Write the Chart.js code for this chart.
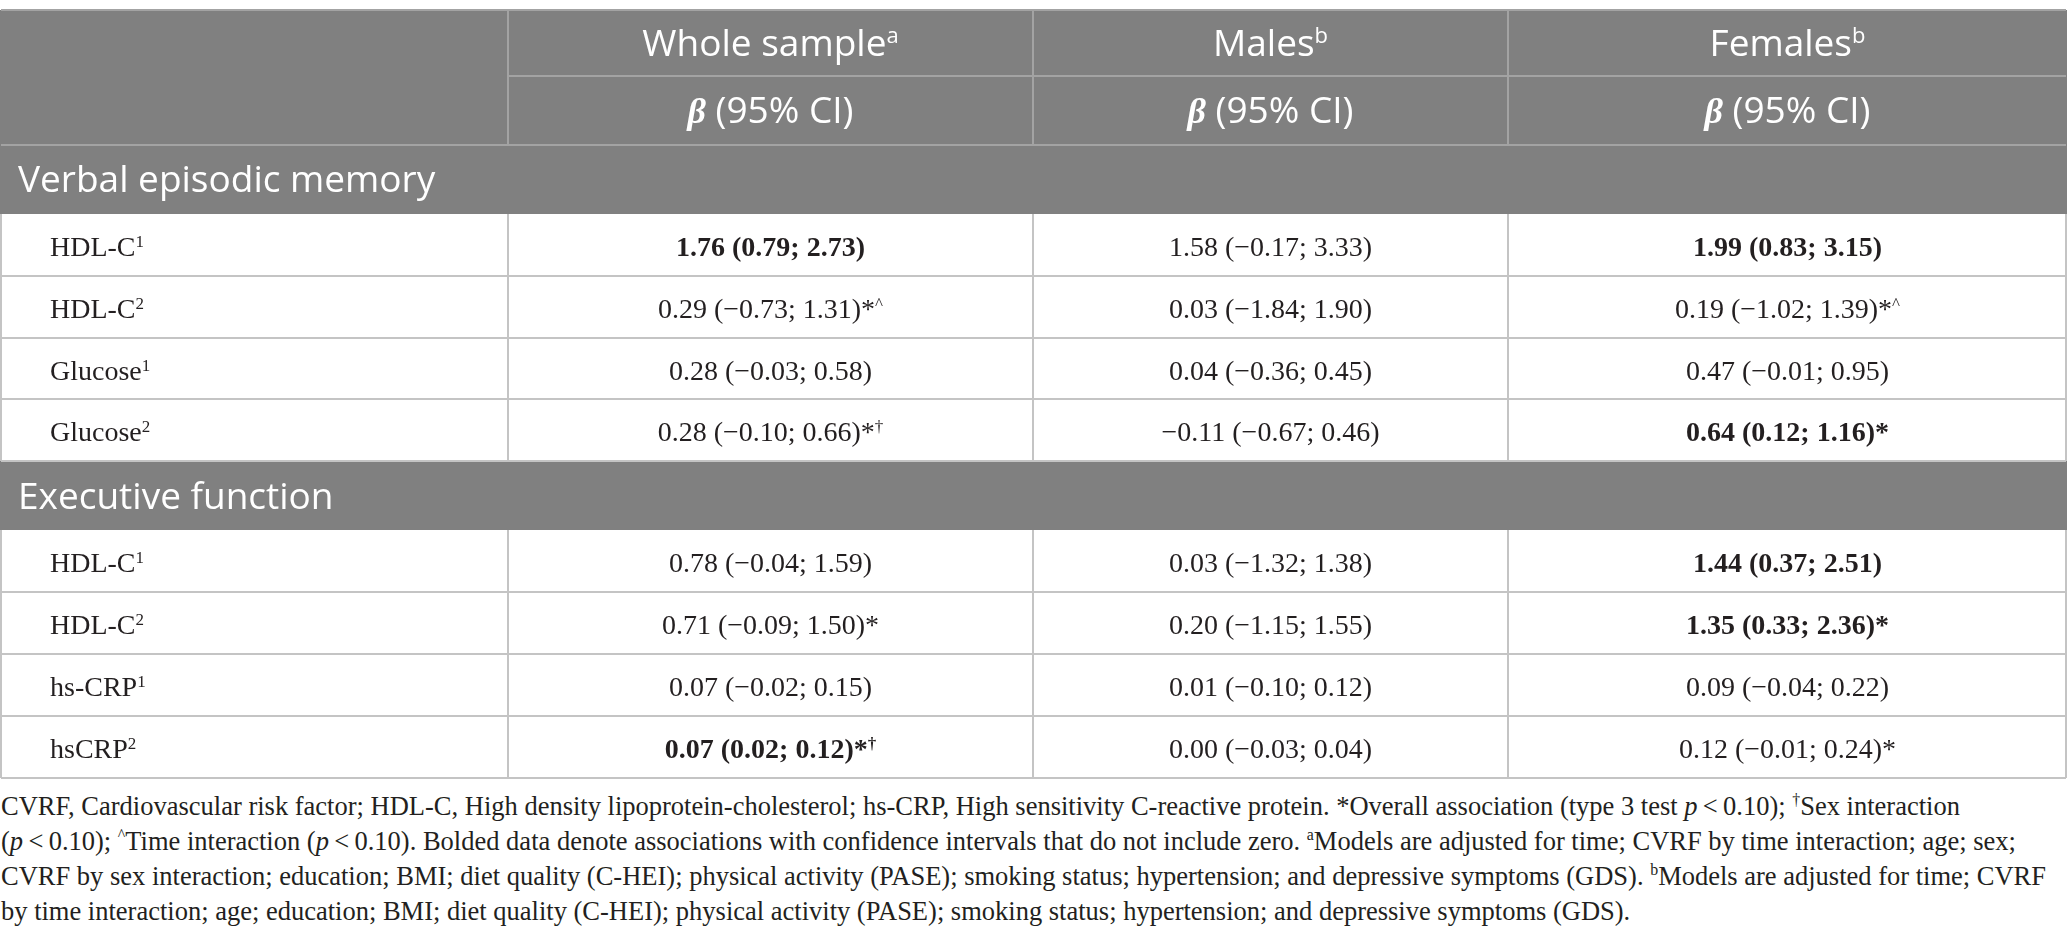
<!DOCTYPE html>
<html>
<head>
<meta charset="utf-8">
<script src="https://cdn.jsdelivr.net/npm/chart.js@4.4.1/dist/chart.umd.min.js"></script>
<style>
    html, body { margin: 0; padding: 0; background: #fff; }
    #wrap { position: relative; width: 2067px; height: 781px; }
    #notes {
        font-family: 'Liberation Serif', serif;
        font-size: 26.5px;
        line-height: 35px;
        color: #231f20;
        margin: 8px 0 0 1px;
        white-space: nowrap;
    }
    #notes sup { font-size: 0.6em; line-height: 0; vertical-align: 0.6em; }
</style>
</head>
<body>
<div id="wrap"><canvas id="tableChart"></canvas></div>
<div id="notes">
CVRF, Cardiovascular risk factor; HDL-C, High density lipoprotein-cholesterol; hs-CRP, High sensitivity C-reactive protein. *Overall association (type 3 test <i>p</i>&thinsp;&lt;&thinsp;0.10); <sup>†</sup>Sex interaction<br>
(<i>p</i>&thinsp;&lt;&thinsp;0.10); <sup>^</sup>Time interaction (<i>p</i>&thinsp;&lt;&thinsp;0.10). Bolded data denote associations with confidence intervals that do not include zero. <sup>a</sup>Models are adjusted for time; CVRF by time interaction; age; sex;<br>
CVRF by sex interaction; education; BMI; diet quality (C-HEI); physical activity (PASE); smoking status; hypertension; and depressive symptoms (GDS). <sup>b</sup>Models are adjusted for time; CVRF<br>
by time interaction; age; education; BMI; diet quality (C-HEI); physical activity (PASE); smoking status; hypertension; and depressive symptoms (GDS).
</div>
<script>
// Column groups and header marks
const groups = ['Whole sample', 'Males', 'Females'];
const groupMarks = ['a', 'b', 'b'];
const statLabel = '(95% CI)';

// Outcome sections and their predictor rows (name + model superscript)
const sections = ['Verbal episodic memory', 'Executive function'];
const verbalRows = ['HDL-C', 'HDL-C', 'Glucose', 'Glucose'];
const verbalModels = ['1', '2', '1', '2'];
const executiveRows = ['HDL-C', 'HDL-C', 'hs-CRP', 'hsCRP'];
const executiveModels = ['1', '2', '1', '2'];

// Estimates, in row order: 4 verbal rows then 4 executive rows
const wholeBeta = [1.76, 0.29, 0.28, 0.28, 0.78, 0.71, 0.07, 0.07];
const wholeLow  = [0.79, -0.73, -0.03, -0.10, -0.04, -0.09, -0.02, 0.02];
const wholeHigh = [2.73, 1.31, 0.58, 0.66, 1.59, 1.50, 0.15, 0.12];
const wholeMarks = ['', '*^', '', '*†', '', '*', '', '*†'];

const maleBeta = [1.58, 0.03, 0.04, -0.11, 0.03, 0.20, 0.01, 0.00];
const maleLow  = [-0.17, -1.84, -0.36, -0.67, -1.32, -1.15, -0.10, -0.03];
const maleHigh = [3.33, 1.90, 0.45, 0.46, 1.38, 1.55, 0.12, 0.04];
const maleMarks = ['', '', '', '', '', '', '', ''];

const femaleBeta = [1.99, 0.19, 0.47, 0.64, 1.44, 1.35, 0.09, 0.12];
const femaleLow  = [0.83, -1.02, -0.01, 0.12, 0.37, 0.33, -0.04, -0.01];
const femaleHigh = [3.15, 1.39, 0.95, 1.16, 2.51, 2.36, 0.22, 0.24];
const femaleMarks = ['', '*^', '', '*', '', '*', '', '*'];

// Layout (pixels on the value axes)
const COL_W = [508, 525, 475, 559];
const ROW_H = { head1: 66, head2: 69, section: 69, data: 62 };
const HEAD_BG = '#808080';
const HEAD_LINE = '#a3a3a3';
const BODY_LINE = '#c4c4c4';
const INK = '#231f20';
const SANS = '"Open Sans", sans-serif';
const SERIF = '"Liberation Serif", serif';

const columns = [
    { beta: wholeBeta, low: wholeLow, high: wholeHigh, marks: wholeMarks },
    { beta: maleBeta, low: maleLow, high: maleHigh, marks: maleMarks },
    { beta: femaleBeta, low: femaleLow, high: femaleHigh, marks: femaleMarks }
];

// Row list: kind + content
const rows = [{ kind: 'head1' }, { kind: 'head2' }];
[[verbalRows, verbalModels], [executiveRows, executiveModels]].forEach(function(pair, s) {
    rows.push({ kind: 'section', text: sections[s] });
    pair[0].forEach(function(name, i) {
        rows.push({ kind: 'data', name: name, model: pair[1][i], idx: s * 4 + i });
    });
});

let acc = 0;
const rowEdges = [0];
rows.forEach(function(r) { acc += ROW_H[r.kind]; rowEdges.push(acc); });
const colEdges = [0];
COL_W.reduce(function(a, w) { colEdges.push(a + w); return a + w; }, 0);

function fmt(v) {
    return v.toFixed(2).replace('-', '\u2212');
}

function drawRich(ctx, parts, x, baseline, align) {
    let total = 0;
    parts.forEach(function(p) {
        ctx.font = p.font;
        p.w = ctx.measureText(p.text).width;
        total += p.w;
    });
    let cx = align === 'center' ? x - total / 2 : x;
    parts.forEach(function(p) {
        ctx.font = p.font;
        ctx.fillText(p.text, cx, baseline + (p.rise || 0));
        cx += p.w;
    });
}

function hLine(ctx, x0, x1, y, color) {
    ctx.strokeStyle = color;
    ctx.beginPath();
    ctx.moveTo(x0, y);
    ctx.lineTo(x1, y);
    ctx.stroke();
}

function vLine(ctx, x, y0, y1, color) {
    ctx.strokeStyle = color;
    ctx.beginPath();
    ctx.moveTo(x, y0);
    ctx.lineTo(x, y1);
    ctx.stroke();
}

const tablePlugin = {
    id: 'tableCells',
    afterDraw(chart) {
        const ctx = chart.ctx;
        const xs = chart.scales.x;
        const ys = chart.scales.y;
        const px = function(v) { return Math.round(xs.getPixelForValue(v)); };
        const py = function(v) { return Math.round(ys.getPixelForValue(v)); };
        const left = px(0) + 1;
        const right = px(colEdges[4]) - 1;

        ctx.save();
        ctx.lineWidth = 2;

        // backgrounds
        rows.forEach(function(r, i) {
            if (r.kind === 'data') return;
            ctx.fillStyle = HEAD_BG;
            ctx.fillRect(px(0), py(rowEdges[i]), px(colEdges[4]) - px(0), py(rowEdges[i + 1]) - py(rowEdges[i]));
        });

        // lines
        rows.forEach(function(r, i) {
            const y0 = py(rowEdges[i]);
            const y1 = py(rowEdges[i + 1]);
            if (r.kind === 'head1') {
                hLine(ctx, left, right, y0, HEAD_LINE);
                hLine(ctx, px(colEdges[1]), right, y1, HEAD_LINE);
                for (let c = 1; c < 4; c++) vLine(ctx, px(colEdges[c]), y0, y1, HEAD_LINE);
            } else if (r.kind === 'head2') {
                hLine(ctx, left, right, y1, HEAD_LINE);
                for (let c = 1; c < 4; c++) vLine(ctx, px(colEdges[c]), y0, y1, HEAD_LINE);
            } else if (r.kind === 'data') {
                hLine(ctx, left, right, y1, BODY_LINE);
                for (let c = 1; c < 4; c++) vLine(ctx, px(colEdges[c]), y0, y1, BODY_LINE);
                vLine(ctx, left, y0, y1, BODY_LINE);
                vLine(ctx, right, y0, y1, BODY_LINE);
            }
        });

        // text
        ctx.textBaseline = 'alphabetic';
        rows.forEach(function(r, i) {
            const mid = (ys.getPixelForValue(rowEdges[i]) + ys.getPixelForValue(rowEdges[i + 1])) / 2;
            if (r.kind === 'head1') {
                ctx.fillStyle = '#ffffff';
                groups.forEach(function(g, c) {
                    const cx = (xs.getPixelForValue(colEdges[c + 1]) + xs.getPixelForValue(colEdges[c + 2])) / 2;
                    drawRich(ctx, [
                        { text: g, font: '37px ' + SANS },
                        { text: groupMarks[c], font: '22px ' + SANS, rise: -13 }
                    ], cx, mid + 13, 'center');
                });
            } else if (r.kind === 'head2') {
                ctx.fillStyle = '#ffffff';
                groups.forEach(function(g, c) {
                    const cx = (xs.getPixelForValue(colEdges[c + 1]) + xs.getPixelForValue(colEdges[c + 2])) / 2;
                    drawRich(ctx, [
                        { text: '\u03b2', font: 'italic bold 36px ' + SERIF },
                        { text: ' ' + statLabel, font: '37px ' + SANS }
                    ], cx, mid + 13, 'center');
                });
            } else if (r.kind === 'section') {
                ctx.fillStyle = '#ffffff';
                drawRich(ctx, [{ text: r.text, font: '37px ' + SANS }], xs.getPixelForValue(18), mid + 13, 'left');
            } else {
                ctx.fillStyle = INK;
                drawRich(ctx, [
                    { text: r.name, font: '28px ' + SERIF },
                    { text: r.model, font: '17px ' + SERIF, rise: -9 }
                ], xs.getPixelForValue(50), mid + 11, 'left');
                columns.forEach(function(col, c) {
                    const k = r.idx;
                    const bold = col.low[k] > 0 || col.high[k] < 0;
                    const weight = bold ? 'bold ' : '';
                    const parts = [{
                        text: fmt(col.beta[k]) + ' (' + fmt(col.low[k]) + '; ' + fmt(col.high[k]) + ')',
                        font: weight + '28px ' + SERIF
                    }];
                    col.marks[k].split('').forEach(function(m) {
                        if (m === '*') parts.push({ text: '*', font: weight + '28px ' + SERIF });
                        else parts.push({ text: m, font: weight + '17px ' + SERIF, rise: -9 });
                    });
                    const cx = (xs.getPixelForValue(colEdges[c + 1]) + xs.getPixelForValue(colEdges[c + 2])) / 2;
                    drawRich(ctx, parts, cx, mid + 11, 'center');
                });
            }
        });
        ctx.restore();
    }
};

document.addEventListener('DOMContentLoaded', function() {
    const el = document.getElementById('tableChart');
    new Chart(el, {
        type: 'scatter',
        data: { datasets: [{ data: [], pointRadius: 0 }] },
        options: {
            responsive: true,
            maintainAspectRatio: false,
            animation: false,
            events: [],
            layout: { padding: { top: 10, right: 0, bottom: 3, left: 0 } },
            plugins: { legend: { display: false }, tooltip: { enabled: false } },
            scales: {
                x: { type: 'linear', display: false, min: 0, max: colEdges[4] },
                y: { type: 'linear', display: false, reverse: true, min: 0, max: rowEdges[rowEdges.length - 1] }
            }
        },
        plugins: [tablePlugin]
    });
});
</script>
</body>
</html>
